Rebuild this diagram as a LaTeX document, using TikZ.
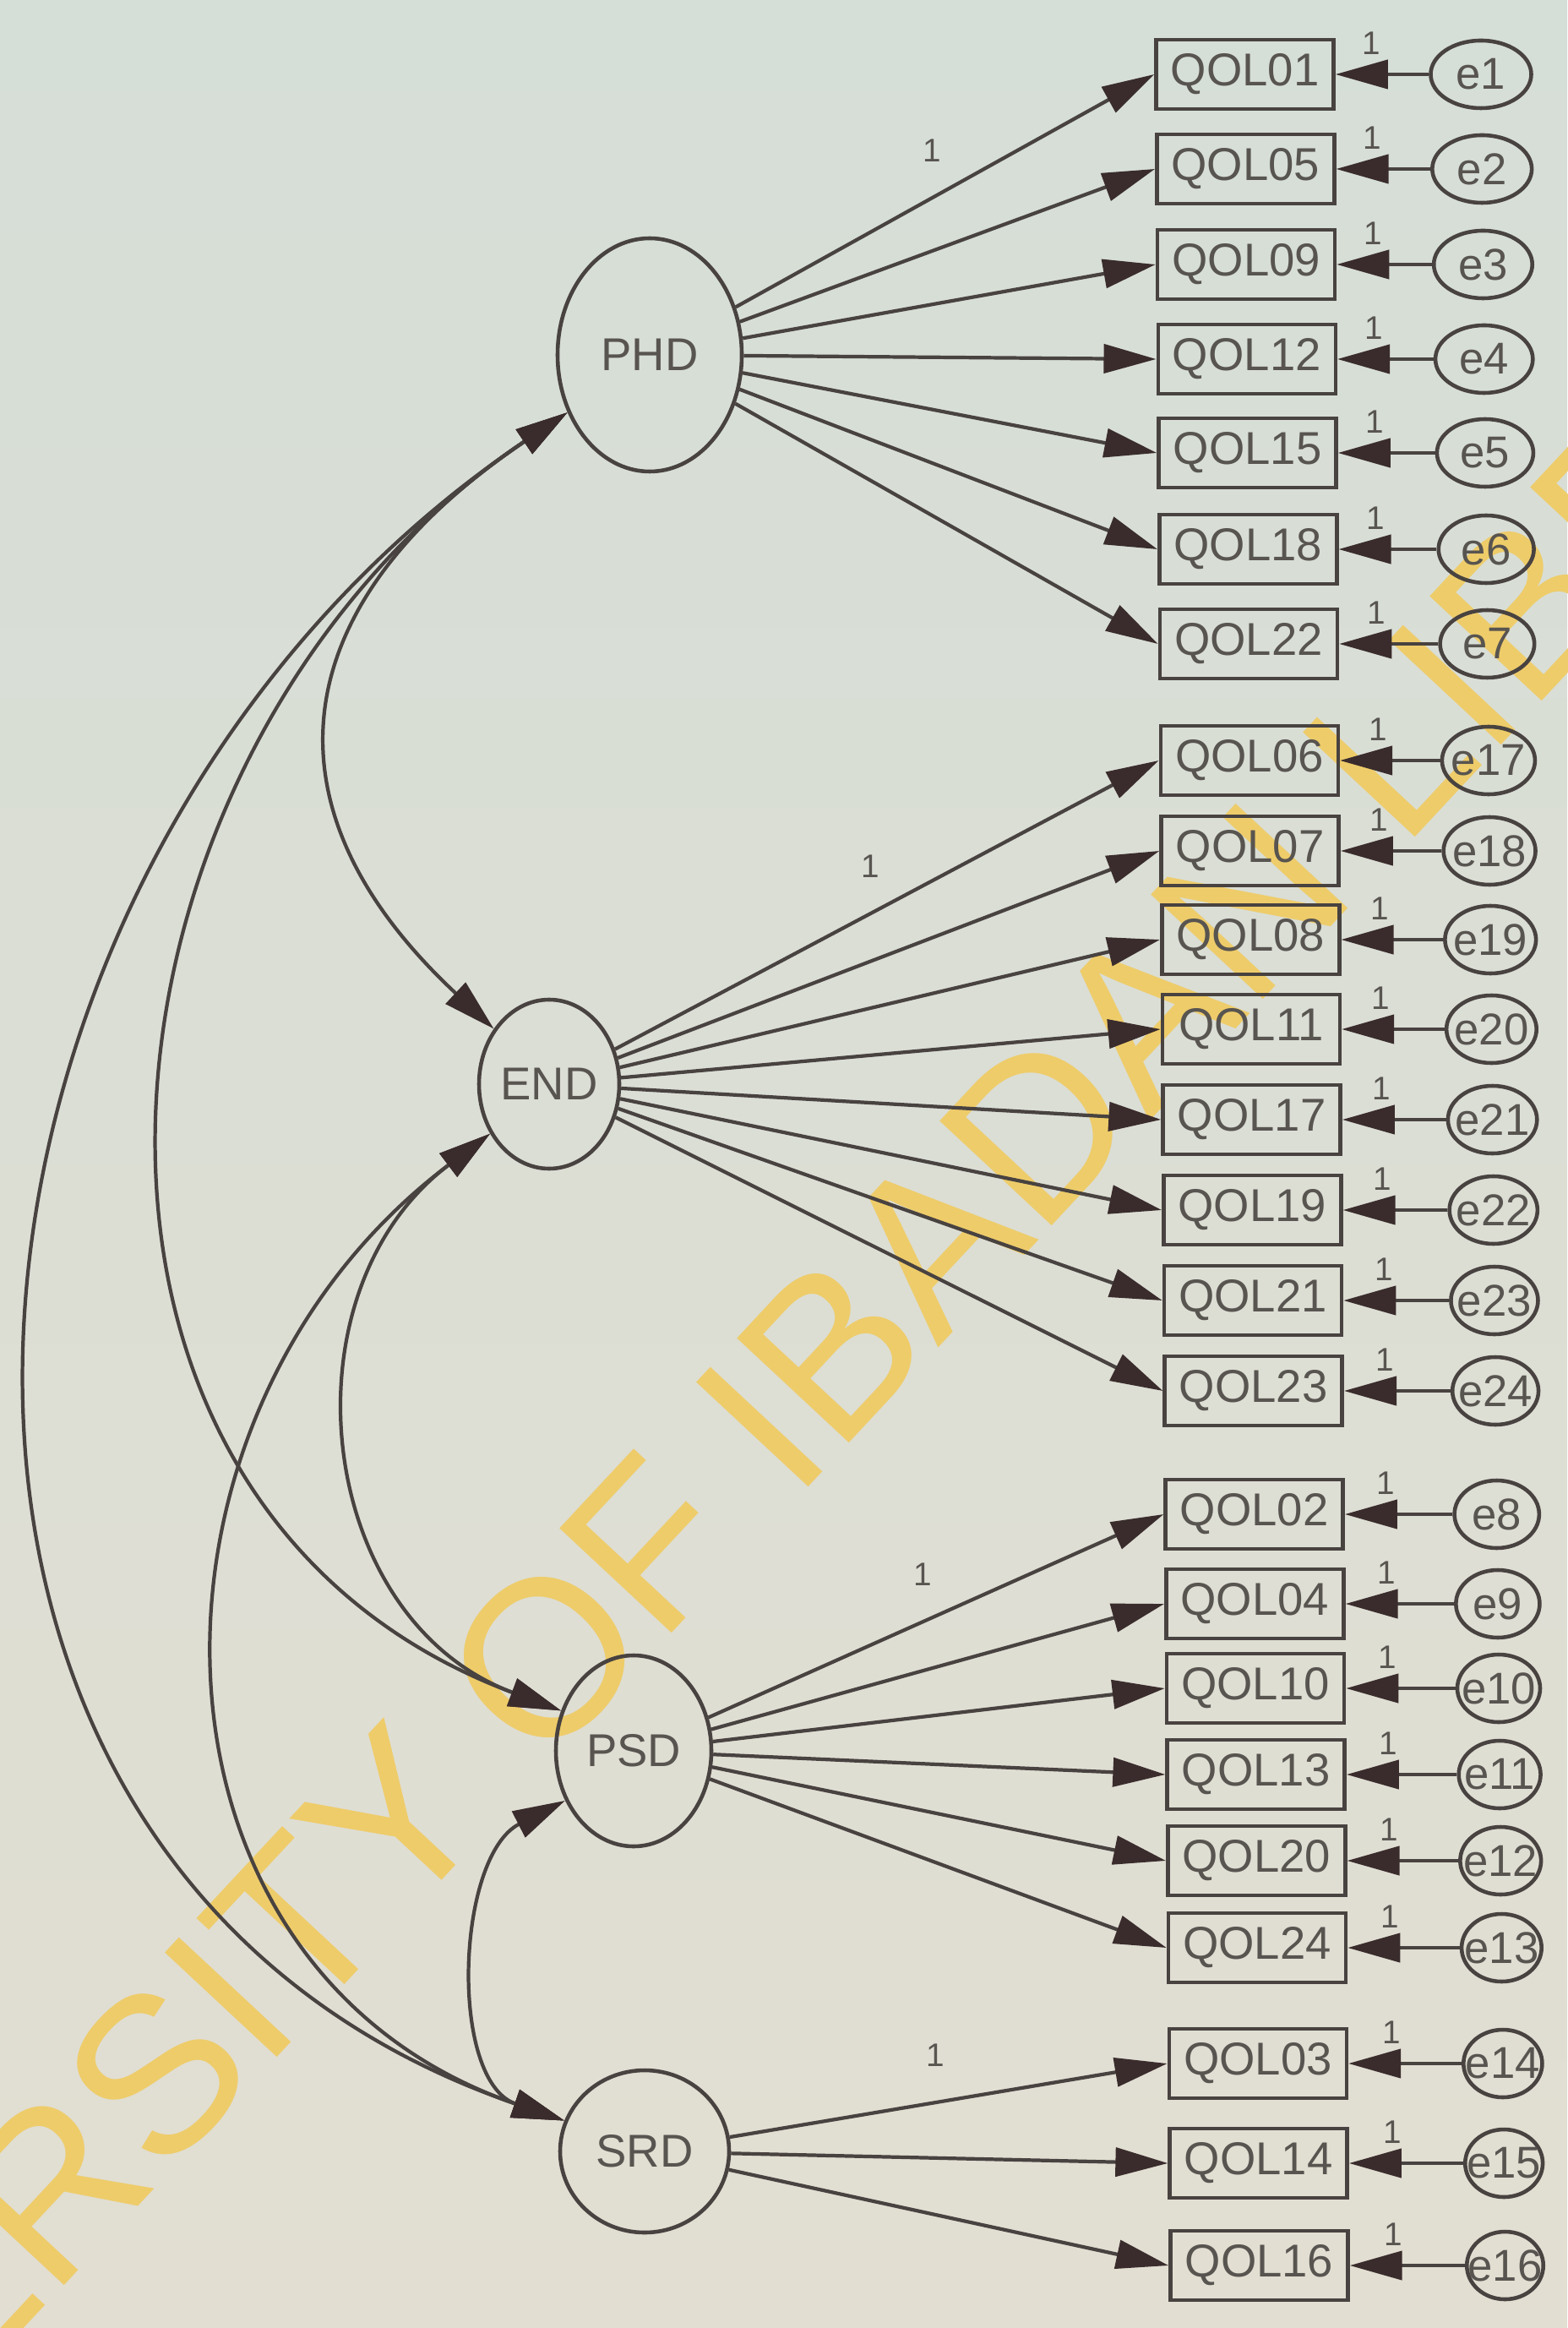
\documentclass[tikz,border=0pt]{standalone}
\usepackage{fontspec}
\setmainfont{Liberation Sans}
\usetikzlibrary{arrows.meta,positioning,calc,shapes.geometric}
\definecolor{paper}{RGB}{213,222,215}
\definecolor{paperlow}{RGB}{226,222,210}
\definecolor{inkln}{RGB}{72,66,64}
\definecolor{inkhd}{RGB}{58,44,44}
\definecolor{inktx}{RGB}{88,84,80}
\definecolor{stamp}{RGB}{238,204,106}
\tikzset{
  latent/.style={ellipse, draw=inkln, line width=1.3pt, inner sep=0pt, text=inktx,
    font=\fontsize{15.5}{16}\selectfont},
  obsbox/.style={rectangle, draw=inkln, line width=1.3pt, minimum width=2.1cm,
    minimum height=0.82cm, inner sep=0pt, text=inktx, font=\fontsize{15.5}{16}\selectfont},
  errell/.style={ellipse, draw=inkln, line width=1.3pt, minimum height=0.8cm, inner sep=0pt,
    text=inktx, font=\fontsize{15}{16}\selectfont},
  loadln/.style={-{Triangle[length=6.2mm,width=3.4mm,color=inkhd]}, line width=1.2pt, draw=inkln},
  covln/.style={{Triangle[length=6.2mm,width=3.4mm,color=inkhd]}-{Triangle[length=6.2mm,width=3.4mm,color=inkhd]},
    line width=1.2pt, draw=inkln},
  fixlbl/.style={font=\fontsize{11}{12}\selectfont, text=inktx, inner sep=0pt},
}

\begin{document}
\begin{tikzpicture}
  \shade[top color=paper, bottom color=paperlow] (0,0) rectangle (18.55,-27.55);
  \useasboundingbox (0,0) rectangle (18.55,-27.55);
  % library stamp behind the model
  \node[rotate=47, text=stamp, inner sep=0pt, font=\fontsize{75}{78}\selectfont] (stamp)
    at (9.03,-16.85) {UNIVERSITY OF IBADAN LIBRARY};

  % latent factors
  \node[latent, minimum width=2.18cm, minimum height=2.76cm] (PHD) at (7.69,-4.20) {PHD};
  \node[latent, minimum width=1.66cm, minimum height=2.00cm] (END) at (6.50,-12.83) {END};
  \node[latent, minimum width=1.84cm, minimum height=2.26cm] (PSD) at (7.50,-20.72) {PSD};
  \node[latent, minimum width=2.00cm, minimum height=1.92cm] (SRD) at (7.63,-25.46) {SRD};

  % items, error terms and loadings
  \foreach \q/\e/\yy/\f in {
      01/1/0.88/PHD, 05/2/2.00/PHD, 09/3/3.13/PHD, 12/4/4.25/PHD, 15/5/5.36/PHD,
      18/6/6.50/PHD, 22/7/7.62/PHD,
      06/17/9.00/END, 07/18/10.07/END, 08/19/11.12/END, 11/20/12.18/END,
      17/21/13.25/END, 19/22/14.32/END, 21/23/15.39/END, 23/24/16.46/END,
      02/8/17.92/PSD, 04/9/18.98/PSD, 10/10/19.98/PSD, 13/11/21.00/PSD,
      20/12/22.02/PSD, 24/13/23.05/PSD,
      03/14/24.42/SRD, 14/15/25.60/SRD, 16/16/26.81/SRD} {
    \pgfmathsetmacro\bx{14.73+0.0065*\yy}
    \pgfmathsetmacro\ex{17.52+0.011*\yy}
    \pgfmathsetmacro\ew{1.20-0.011*\yy}
    \node[obsbox] (q\q) at (\bx,-\yy) {QOL\q};
    \node[errell, minimum width=\ew cm] (e\e) at (\ex,-\yy) {\makebox[0pt]{e\e}};
    \draw[loadln] (e\e) -- node[fixlbl, pos=.62, above=6pt] (w\e) {1} (q\q);
    \draw[loadln] (\f) -- (q\q.west);
  }
  \foreach \f/\q in {PHD/01, END/06, PSD/02, SRD/03}
    \path (\f) -- node[fixlbl, pos=.47, above=12pt] (fix\f) {1} (q\q.west);

  % covariances
  \draw[covln] (PHD.215) .. controls +(214:3.95) and +(137:3.95) .. (END.135);
  \draw[covln] (PHD.215) .. controls +(214:7.1) and +(159.5:7.1) .. (PSD.151);
  \draw[covln] (PHD.215) .. controls +(214:9.45) and +(161:9.45) .. (SRD.159);
  \draw[covln] (END.220) .. controls +(217:3.12) and +(159.5:3.12) .. (PSD.151);
  \draw[covln] (END.220) .. controls +(217:5.53) and +(161:5.53) .. (SRD.159);
  \draw[covln] (PSD.216) .. controls +(207:1.45) and +(161:1.45) .. (SRD.159);
\end{tikzpicture}
\end{document}
